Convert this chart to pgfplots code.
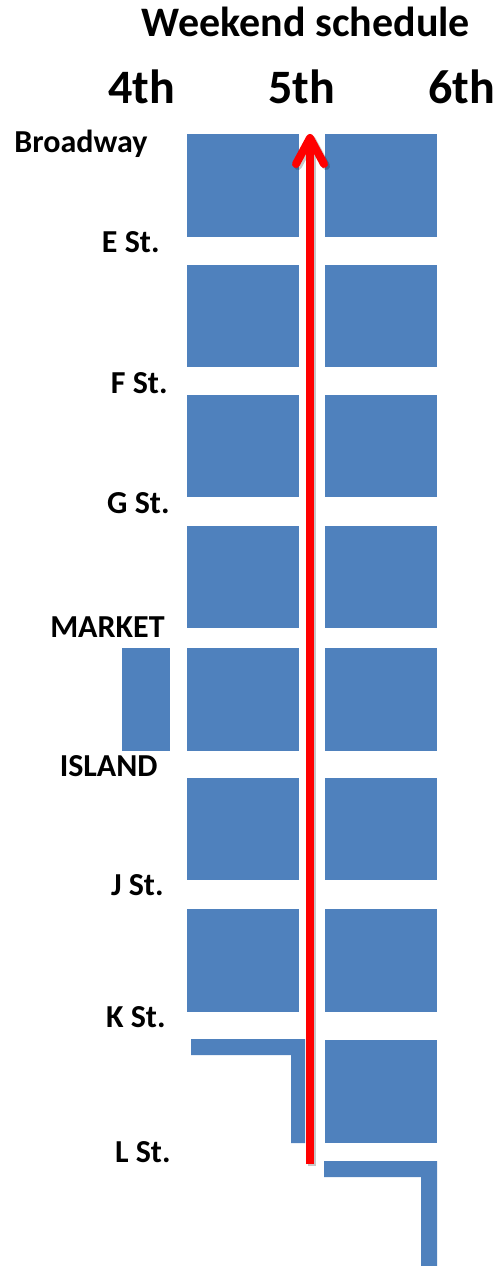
\documentclass[border=0pt]{standalone}
\usepackage{fontspec}
\setmainfont{Carlito}
\usepackage{pgfplots}
\pgfplotsset{compat=1.18}
\usetikzlibrary{arrows.meta}
\definecolor{blockblue}{RGB}{79,129,189}
\definecolor{routered}{RGB}{255,0,0}
\tikzset{street/.style={inner sep=0pt, font=\bfseries\fontsize{16}{19}\selectfont}}

\begin{document}
\begin{tikzpicture}
\begin{axis}[
    scale only axis,
    width=248.5pt, height=633pt,
    xmin=0, xmax=497, ymin=0, ymax=1266,
    y dir=reverse,
    hide axis,
    clip=false,
]
% left column blocks (4th-5th)
\addplot[fill=blockblue, draw=none] coordinates {(187,134)(299,134)(299,237)(187,237)} -- cycle;
\addplot[fill=blockblue, draw=none] coordinates {(187,265)(299,265)(299,367)(187,367)} -- cycle;
\addplot[fill=blockblue, draw=none] coordinates {(187,395)(299,395)(299,497)(187,497)} -- cycle;
\addplot[fill=blockblue, draw=none] coordinates {(187,526)(299,526)(299,628)(187,628)} -- cycle;
\addplot[fill=blockblue, draw=none] coordinates {(187,648)(299,648)(299,751)(187,751)} -- cycle;
\addplot[fill=blockblue, draw=none] coordinates {(187,778)(299,778)(299,880)(187,880)} -- cycle;
\addplot[fill=blockblue, draw=none] coordinates {(187,909)(299,909)(299,1012)(187,1012)} -- cycle;
% right column blocks (5th-6th)
\addplot[fill=blockblue, draw=none] coordinates {(325,134)(437,134)(437,237)(325,237)} -- cycle;
\addplot[fill=blockblue, draw=none] coordinates {(325,265)(437,265)(437,367)(325,367)} -- cycle;
\addplot[fill=blockblue, draw=none] coordinates {(325,395)(437,395)(437,497)(325,497)} -- cycle;
\addplot[fill=blockblue, draw=none] coordinates {(325,526)(437,526)(437,628)(325,628)} -- cycle;
\addplot[fill=blockblue, draw=none] coordinates {(325,648)(437,648)(437,751)(325,751)} -- cycle;
\addplot[fill=blockblue, draw=none] coordinates {(325,778)(437,778)(437,880)(325,880)} -- cycle;
\addplot[fill=blockblue, draw=none] coordinates {(325,909)(437,909)(437,1012)(325,1012)} -- cycle;
\addplot[fill=blockblue, draw=none] coordinates {(325,1040)(437,1040)(437,1143)(325,1143)} -- cycle;
% small block left of 4th
\addplot[fill=blockblue, draw=none] coordinates {(122,648)(170,648)(170,751)(122,751)} -- cycle;
% L-shaped pieces
\addplot[fill=blockblue, draw=none] coordinates {(191,1039)(305,1039)(305,1143)(291,1143)(291,1055)(191,1055)} -- cycle;
\addplot[fill=blockblue, draw=none] coordinates {(324,1161)(437,1161)(437,1266)(421,1266)(421,1177)(324,1177)} -- cycle;

% route arrow with soft shadow
\addplot[black, opacity=0.22, line width=4pt, -{Straight Barb[length=13pt, width=14pt, round]},
    xshift=1pt, yshift=-1pt] coordinates {(310,1164)(310,134)};
\addplot[routered, line width=4pt, -{Straight Barb[length=13pt, width=14pt, round]}]
    coordinates {(310,1164)(310,134)};

% titles
\node[anchor=base, inner sep=0pt, font=\bfseries\fontsize{21}{25}\selectfont] at (axis cs:306,37) {Weekend schedule};
\node[anchor=base, inner sep=0pt, font=\bfseries\fontsize{24}{28}\selectfont] at (axis cs:142,104) {4th};
\node[anchor=base, inner sep=0pt, font=\bfseries\fontsize{24}{28}\selectfont] at (axis cs:302,104) {5th};
\node[anchor=base, inner sep=0pt, font=\bfseries\fontsize{24}{28}\selectfont] at (axis cs:462,104) {6th};

% street labels
\node[street, anchor=base west] at (axis cs:14,153) {Broadway};
\node[street, anchor=base east] at (axis cs:160,253) {E St.};
\node[street, anchor=base east] at (axis cs:168,393) {F St.};
\node[street, anchor=base east] at (axis cs:170,513) {G St.};
\node[street, anchor=base east] at (axis cs:165,637) {MARKET};
\node[street, anchor=base east] at (axis cs:158,776) {ISLAND};
\node[street, anchor=base east] at (axis cs:164,895) {J St.};
\node[street, anchor=base east] at (axis cs:166,1027) {K St.};
\node[street, anchor=base east] at (axis cs:171,1162) {L St.};
\end{axis}
\pgfresetboundingbox
\path (current axis.south west) rectangle (current axis.north east);
\end{tikzpicture}
\end{document}
